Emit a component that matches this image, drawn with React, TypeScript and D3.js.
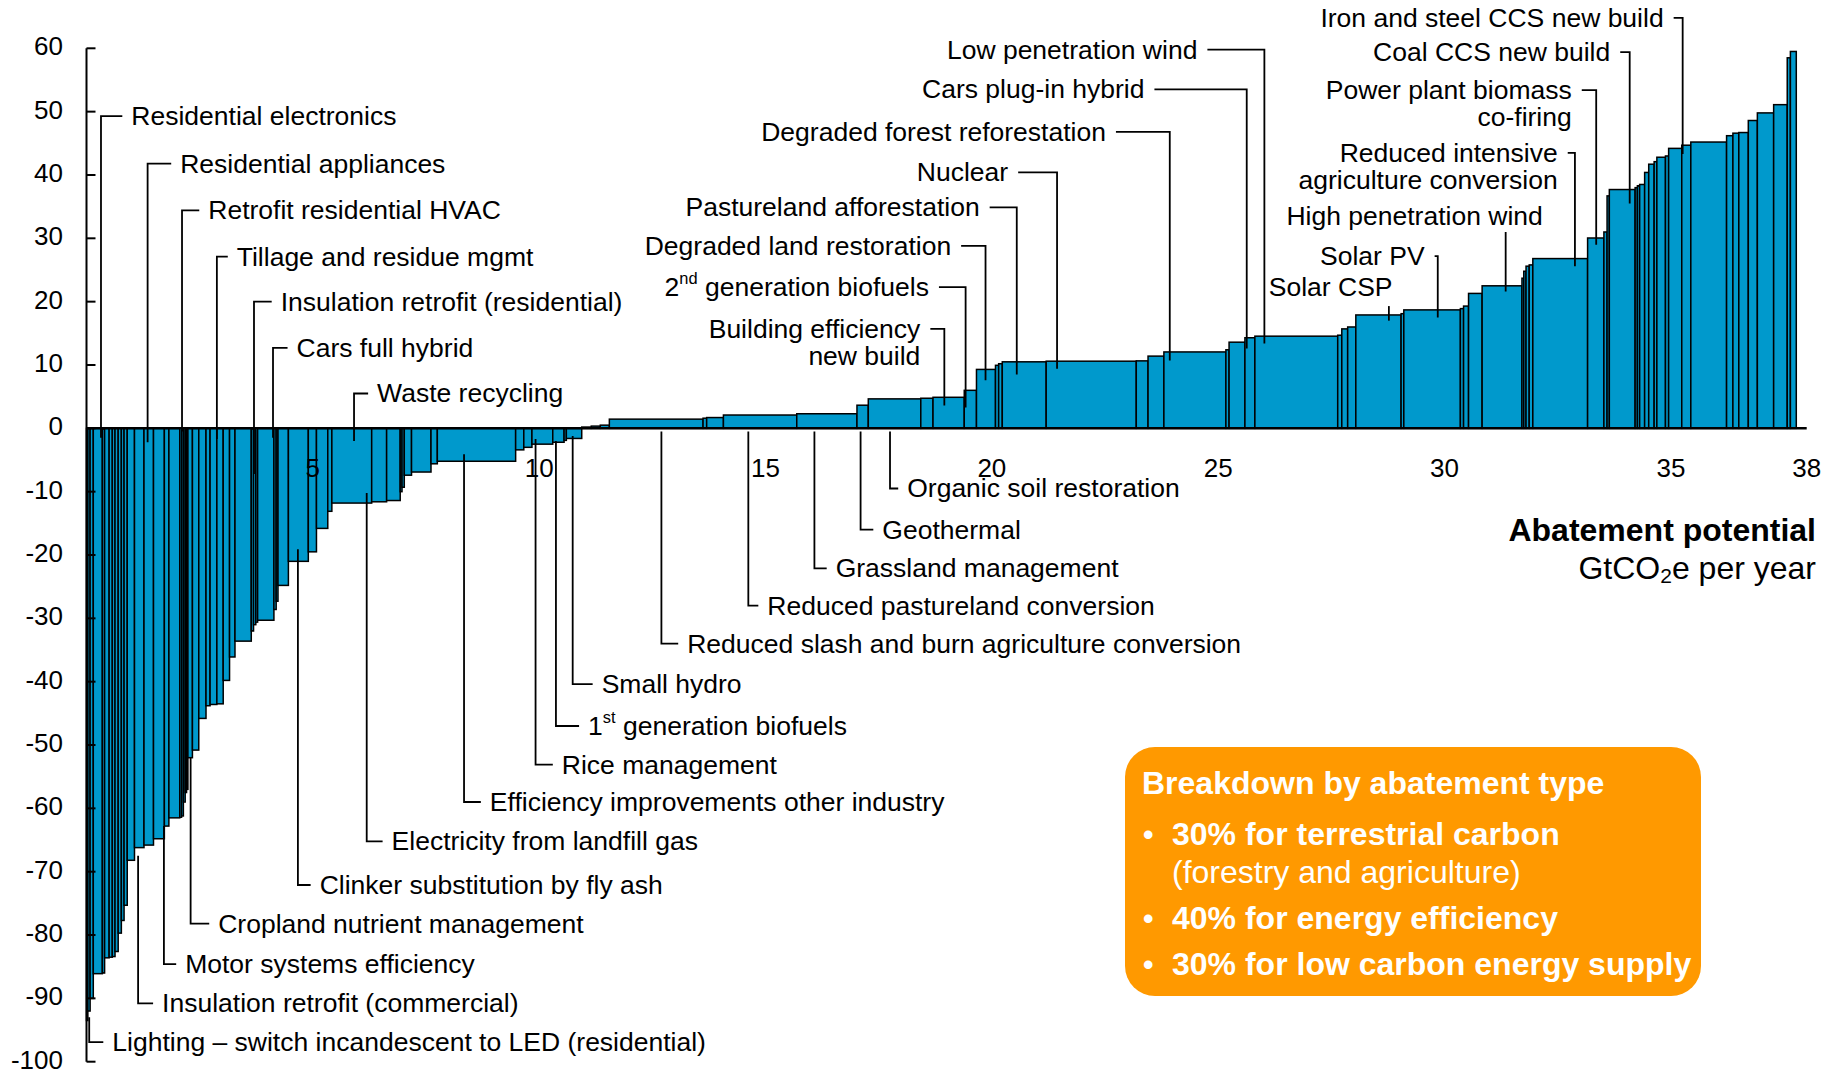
import React, { useEffect, useRef } from 'react';
import * as d3 from 'd3';

// abatement potential of each lever, GtCO2e per year (bar widths, left to right)
const leverPotential = [
  0.03, 0.05, 0.07, 0.2, 0.05, 0.1, 0.07, 0.06, 0.07, 0.07, 0.06, 0.07, 0.16, 0.21, 0.21, 0.24, 0.1, 0.24,
  0.04, 0.04, 0.04, 0.03, 0.03, 0.1, 0.14, 0.16, 0.09, 0.15, 0.14, 0.14, 0.12, 0.36, 0.05, 0.05, 0.04, 0.36,
  0.05, 0.04, 0.23, 0.44, 0.18, 0.25, 0.09, 0.88, 0.33, 0.3, 0.04, 0.05, 0.16, 0.43, 0.14, 1.73, 0.18, 0.18,
  0.46, 0.25, 0.05, 0.34,
  0.21, 0.2, 0.2, 2.07, 0.08, 0.37, 1.62, 1.33, 0.25, 1.16, 0.27, 0.69, 0.27, 0.42, 0.07, 0.08, 0.97, 1.99,
  0.26, 0.35, 1.37, 0.07, 0.35, 0.22, 1.83, 0.09, 0.13, 0.18, 1.0, 0.06, 1.25, 0.07, 0.11, 0.3, 0.88, 0.04,
  0.05, 0.07, 0.08, 1.21, 0.36, 0.07, 0.05, 0.57, 0.05, 0.05, 0.11, 0.09, 0.12, 0.06, 0.19, 0.07, 0.29, 0.2,
  0.79, 0.14, 0.13, 0.21, 0.2, 0.36, 0.3, 0.07, 0.13,
];

// abatement cost of each lever (bar heights)
const leverCost = [
  -93.5, -92, -90, -86.1, -86.0, -83.6, -83.5, -83.4, -82.6, -79.7, -77.7, -75.3, -68.2, -66.2, -65.8, -64.8,
  -62.8, -61.5, -61.4, -61.2, -59, -57.5, -57, -52, -50.8, -45.8, -43.8, -43.6, -43.5, -39.8, -36.1, -33.6,
  -32, -31, -30.6, -30.3, -28.6, -27.3, -24.8, -21, -19.5, -15.8, -13.1, -11.8, -11.6, -11.4, -10, -9.3, -7.4,
  -6.9, -5.6, -5.2, -3.4, -3.0, -2.5, -2.2, -1.9, -1.6,
  0.2, 0.35, 0.5, 1.45, 1.6, 1.7, 2.1, 2.3, 3.65, 4.65, 4.75, 4.9, 6.0, 9.3, 9.95, 10.2, 10.5, 10.6, 10.65,
  11.4, 12.06, 12.4, 13.6, 14.3, 14.55, 14.7, 15.7, 16.0, 17.9, 18.1, 18.7, 18.9, 19.3, 21.3, 22.5, 23.7, 24.8,
  25.6, 25.8, 26.8, 30.05, 31.0, 36.7, 37.7, 38.0, 38.3, 38.5, 40.4, 41.7, 42.1, 42.8, 43.0, 44.2, 44.7, 45.2,
  46.2, 46.6, 46.7, 48.6, 49.8, 51.1, 58.5, 59.5,
];

const xTicks = [5, 10, 15, 20, 25, 30, 35, 38];
const yTicks = [60, 50, 40, 30, 20, 10, 0, -10, -20, -30, -40, -50, -60, -70, -80, -90, -100];

// callouts with text to the right of the leader: [text, leader x, leader start, label level, text x]
const calloutsRight: [string, number, number, number, number][] = [
  ['Residential electronics', 0.32, -1.5, 49.3, 0.99],
  ['Residential appliances', 1.35, -2.2, 41.8, 2.07],
  ['Retrofit residential HVAC', 2.11, -0.5, 34.4, 2.69],
  ['Tillage and residue mgmt', 2.88, -1.7, 27.1, 3.32],
  ['Insulation retrofit (residential)', 3.7, -7.2, 20.0, 4.29],
  ['Cars full hybrid', 4.12, -1.5, 12.7, 4.64],
  ['Waste recycling', 5.91, -2.0, 5.5, 6.42],
  ['Lighting – switch incandescent to LED (residential)', 0.06, -93, -96.9, 0.57],
  ['Insulation retrofit (commercial)', 1.14, -67.5, -90.8, 1.67],
  ['Motor systems efficiency', 1.71, -62.8, -84.6, 2.18],
  ['Cropland nutrient management', 2.3, -52, -78.2, 2.91],
  ['Clinker substitution by fly ash', 4.67, -19.1, -72.1, 5.15],
  ['Electricity from landfill gas', 6.19, -10.2, -65.2, 6.74],
  ['Efficiency improvements other industry', 8.34, -4.1, -59.0, 8.91],
  ['Rice management', 9.92, -1.7, -53.1, 10.5],
  ['1^st^ generation biofuels', 10.37, -2.0, -47.0, 11.08],
  ['Small hydro', 10.74, -1.2, -40.4, 11.38],
  ['Reduced slash and burn agriculture conversion', 12.7, -0.5, -34.0, 13.27],
  ['Reduced pastureland conversion', 14.62, -0.5, -28.0, 15.04],
  ['Grassland management', 16.08, -0.5, -22.1, 16.55],
  ['Geothermal', 17.1, -0.5, -16.0, 17.58],
  ['Organic soil restoration', 17.75, -0.5, -9.5, 18.13],
];

// callouts with text to the left of the leader: [lines, leader x, leader end, label level, text end x]
const calloutsLeft: [string[], number, number, number, number][] = [
  [['Low penetration wind'], 26.02, 13.4, 59.8, 24.54],
  [['Cars plug-in hybrid'], 25.63, 12.6, 53.5, 23.37],
  [['Degraded forest reforestation'], 23.93, 10.7, 46.8, 22.52],
  [['Nuclear'], 21.44, 9.4, 40.4, 20.36],
  [['Pastureland afforestation'], 20.55, 8.5, 34.9, 19.73],
  [['Degraded land restoration'], 19.86, 7.6, 28.8, 19.1],
  [['2^nd^ generation biofuels'], 19.42, 3.3, 22.3, 18.61],
  [['Building efficiency', 'new build'], 18.95, 3.6, 15.7, 18.42],
  [['Iron and steel CCS new build'], 35.26, 43.3, 64.8, 34.84],
  [['Coal CCS new build'], 34.09, 35.5, 59.4, 33.66],
  [['Power plant biomass', 'co-firing'], 33.35, 29.0, 53.4, 32.81],
  [['Reduced intensive', 'agriculture conversion'], 32.88, 25.6, 43.5, 32.5],
  [['Solar PV'], 29.85, 17.5, 27.2, 29.56],
];

// callouts with the text above a short leader: [text, leader x, leader top, leader bottom, label level, text end x]
const calloutsAbove: [string, number, number, number, number, number][] = [
  ['High penetration wind', 31.35, 31.0, 21.6, 33.6, 32.17],
  ['Solar CSP', 28.77, 19.3, 17.0, 22.3, 28.85],
];

const breakdownTitle = 'Breakdown by abatement type';
const breakdownItems = [
  ['30% for terrestrial carbon', '(forestry and agriculture)'],
  ['40% for energy efficiency'],
  ['30% for low carbon energy supply'],
];

const FONT = '"Liberation Sans", Arial, Helvetica, sans-serif';
const LABEL_SIZE = 26.5;

function addText(sel: any, x: number, y: number, str: string, size: number, anchor: string) {
  const t = sel.append('text')
    .attr('x', x)
    .attr('y', y)
    .attr('text-anchor', anchor)
    .attr('dominant-baseline', 'central')
    .attr('font-size', size);
  const parts = str.split('^');
  let shifted = false;
  parts.forEach((p, i) => {
    if (!p) return;
    const sup = i % 2 === 1;
    const ts = t.append('tspan').text(p);
    if (sup) {
      ts.attr('font-size', size * 0.62).attr('dy', -9);
      shifted = true;
    } else if (shifted) {
      ts.attr('dy', 9);
      shifted = false;
    }
  });
  return t;
}

export default function App() {
  const svgRef = useRef<SVGSVGElement>(null);

  useEffect(() => {
    if (!svgRef.current) return;
    const width = 1842;
    const height = 1072;

    d3.select(svgRef.current).selectAll('*').remove();
    const svg = d3.select(svgRef.current)
      .attr('width', width)
      .attr('height', height)
      .style('font-family', FONT);

    const x = d3.scaleLinear().domain([0, 38]).range([86.5, 1806.7]);
    const y = d3.scaleLinear().domain([60, -100]).range([48.3, 1061.7]);

    let acc = 0;
    const bars = leverPotential.map((w, i) => {
      const x0 = acc;
      acc += w;
      return { x0, x1: acc, cost: leverCost[i] };
    });

    svg.append('g')
      .selectAll('rect')
      .data(bars)
      .enter()
      .append('rect')
      .attr('x', d => x(d.x0))
      .attr('width', d => x(d.x1) - x(d.x0))
      .attr('y', d => Math.min(y(d.cost), y(0)))
      .attr('height', d => Math.abs(y(d.cost) - y(0)))
      .attr('fill', '#0099cc')
      .attr('stroke', '#000')
      .attr('stroke-width', 1.5);

    // leaders and labels
    const ann = svg.append('g').attr('fill', '#000');
    const line = (pts: [number, number][]) => ann.append('path')
      .attr('d', d3.line()(pts))
      .attr('fill', 'none')
      .attr('stroke', '#000')
      .attr('stroke-width', 1.8);

    calloutsRight.forEach(([text, lx, from, level, tx]) => {
      line([[x(lx), y(from)], [x(lx), y(level)], [x(tx) - 9, y(level)]]);
      addText(ann, x(tx), y(level), text, LABEL_SIZE, 'start');
    });

    calloutsLeft.forEach(([lines, lx, to, level, te]) => {
      line([[x(te) + 10, y(level)], [x(lx), y(level)], [x(lx), y(to)]]);
      lines.forEach((l, i) => addText(ann, x(te), y(level) + i * 27, l, LABEL_SIZE, 'end'));
    });

    calloutsAbove.forEach(([text, lx, top, bottom, level, te]) => {
      line([[x(lx), y(top)], [x(lx), y(bottom)]]);
      addText(ann, x(te), y(level), text, LABEL_SIZE, 'end');
    });

    // x axis
    svg.append('line')
      .attr('x1', x(0)).attr('x2', x(38))
      .attr('y1', y(0)).attr('y2', y(0))
      .attr('stroke', '#000').attr('stroke-width', 2.5);
    svg.append('g')
      .selectAll('text')
      .data(xTicks)
      .enter()
      .append('text')
      .attr('x', d => x(d))
      .attr('y', y(0) + 40)
      .attr('text-anchor', 'middle')
      .attr('dominant-baseline', 'central')
      .attr('font-size', 26)
      .text(d => d);

    // y axis
    svg.append('line')
      .attr('x1', x(0)).attr('x2', x(0))
      .attr('y1', y(60)).attr('y2', y(-100))
      .attr('stroke', '#000').attr('stroke-width', 2);
    const yt = svg.append('g').selectAll('g').data(yTicks).enter().append('g');
    yt.append('line')
      .attr('x1', x(0)).attr('x2', x(0) + 9)
      .attr('y1', d => y(d)).attr('y2', d => y(d))
      .attr('stroke', '#000').attr('stroke-width', 2);
    yt.append('text')
      .attr('x', 63)
      .attr('y', d => y(d) - 2)
      .attr('text-anchor', 'end')
      .attr('dominant-baseline', 'central')
      .attr('font-size', 26)
      .text(d => d);

    // axis title
    svg.append('text')
      .attr('x', 1816).attr('y', 530)
      .attr('text-anchor', 'end').attr('dominant-baseline', 'central')
      .attr('font-size', 32).attr('font-weight', 'bold')
      .text('Abatement potential');
    const unit = svg.append('text')
      .attr('x', 1816).attr('y', 568)
      .attr('text-anchor', 'end').attr('dominant-baseline', 'central')
      .attr('font-size', 32);
    unit.append('tspan').text('GtCO');
    unit.append('tspan').attr('font-size', 21).attr('dy', 7).text('2');
    unit.append('tspan').attr('dy', -7).text('e per year');

    // breakdown box
    const box = svg.append('g');
    box.append('rect')
      .attr('x', 1125).attr('y', 747)
      .attr('width', 576).attr('height', 249)
      .attr('rx', 30)
      .attr('fill', '#ff9900');
    box.append('text')
      .attr('x', 1142).attr('y', 783)
      .attr('dominant-baseline', 'central')
      .attr('font-size', 32).attr('font-weight', 'bold')
      .attr('fill', '#fff')
      .text(breakdownTitle);
    let rowY = 834;
    breakdownItems.forEach(item => {
      box.append('text')
        .attr('x', 1143).attr('y', rowY)
        .attr('dominant-baseline', 'central')
        .attr('font-size', 30).attr('font-weight', 'bold')
        .attr('fill', '#fff')
        .text('•');
      item.forEach((s, i) => {
        box.append('text')
          .attr('x', 1172).attr('y', rowY)
          .attr('dominant-baseline', 'central')
          .attr('font-size', 32).attr('font-weight', i === 0 ? 'bold' : 'normal')
          .attr('fill', '#fff')
          .text(s);
        rowY += i === 0 && item.length > 1 ? 38 : 0;
      });
      rowY += 46;
    });
  }, []);

  return <svg ref={svgRef} style={{ position: 'absolute', left: 0, top: 0, background: '#fff' }}></svg>;
}
